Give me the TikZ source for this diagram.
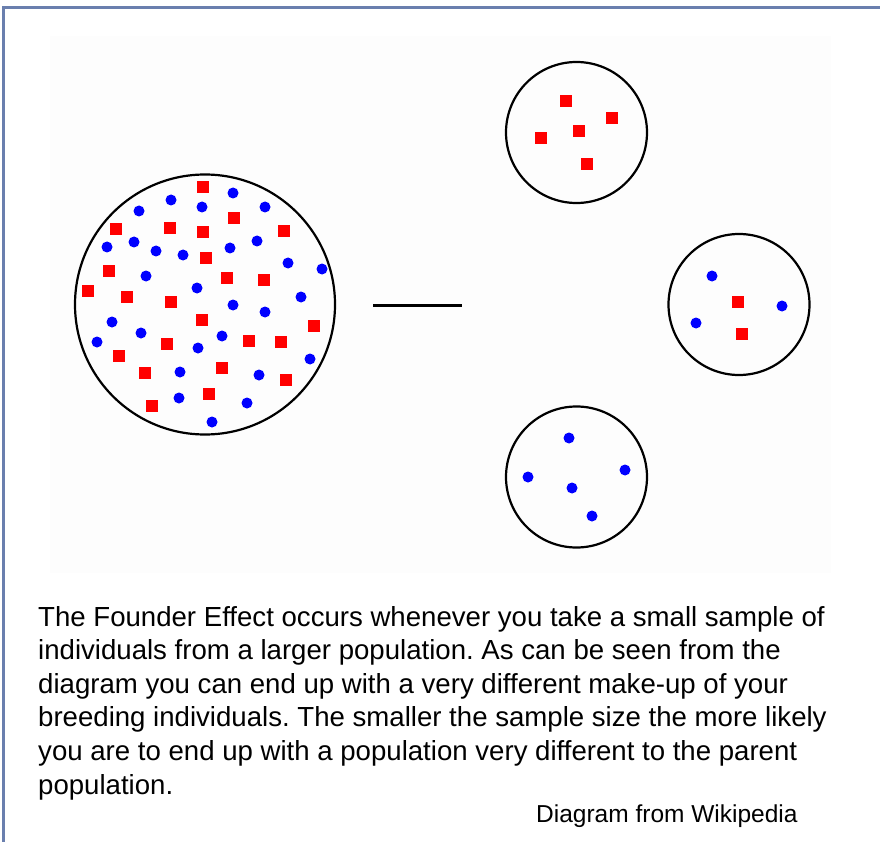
\documentclass[tikz,border=0pt]{standalone}
\usepackage{fontspec}
\setmainfont{Liberation Sans}
\usetikzlibrary{positioning}

\definecolor{framecol}{HTML}{6A7FAE}
\definecolor{dotred}{HTML}{FF0000}
\definecolor{dotblue}{HTML}{0000FF}
\frenchspacing

\begin{document}
\begin{tikzpicture}[x=1pt, y=-1pt,
    pop/.style={circle, draw=black, line width=2.2pt, inner sep=0pt},
    redsq/.style={rectangle, fill=dotred, minimum size=11.5pt, inner sep=0pt},
    bluedot/.style={circle, fill=dotblue, minimum size=11pt, inner sep=0pt},
    capline/.style={anchor=base west, inner sep=0pt, font=\fontsize{27.6}{33.6}\selectfont},
]
\useasboundingbox (0,0) rectangle (880,842);

% === Frame and picture background ===
\draw[framecol, line width=3pt] (3.5,842) -- (3.5,8) -- (880,8);
\fill[black!0.8] (50,36) rectangle (831,573);

% === Parent population ===
\node[pop, minimum size=260pt] (parent) at (205,304.5) {};
\foreach \px/\py [count=\i] in {203/187, 234/218, 116/229, 170/228, 203/232, 284/231,
    206/258, 109/271, 227/278, 264/280, 88/291, 127/297, 171/302, 202/320, 314/326,
    167/344, 249/341, 281/342, 119/356, 145/373, 222/368, 286/380, 209/394, 152/406}
  \node[redsq] (pr\i) at (\px,\py) {};
\foreach \px/\py [count=\i] in {233/193, 171/200, 202/207, 265/207, 139/211, 134/242,
    107/247, 156/251, 183/255, 230/248, 257/241, 288/263, 322/269, 146/276, 197/288,
    301/297, 233/305, 265/312, 112/322, 141/333, 97/342, 222/336, 198/348, 310/359,
    180/372, 259/375, 179/398, 247/403, 212/422}
  \node[bluedot] (pb\i) at (\px,\py) {};

% === Sampling bar ===
\coordinate (barL) at (373,305);
\coordinate (barR) at (462,305);
\draw[line width=3pt] (barL) -- (barR);

% === Sample 1: red only ===
\node[pop, minimum size=141pt] (sampA) at (576.5,132.5) {};
\foreach \px/\py [count=\i] in {566/101, 612/118, 579/131, 541/138, 587/164}
  \node[redsq] (ar\i) at (\px,\py) {};

% === Sample 2: mixed ===
\node[pop, minimum size=141pt] (sampB) at (739,304.5) {};
\foreach \px/\py [count=\i] in {712/276, 782/306, 696/323}
  \node[bluedot] (bb\i) at (\px,\py) {};
\foreach \px/\py [count=\i] in {738/302, 742/334}
  \node[redsq] (br\i) at (\px,\py) {};

% === Sample 3: blue only ===
\node[pop, minimum size=141pt] (sampC) at (576.5,477) {};
\foreach \px/\py [count=\i] in {569/438, 528/477, 625/470, 572/488, 592/516}
  \node[bluedot] (cb\i) at (\px,\py) {};

% === Caption ===
\foreach \ln [count=\i] in {{The Founder Effect occurs whenever you take a small sample of},
    {individuals from a larger population. As can be seen from the},
    {diagram you can end up with a very different make-up of your},
    {breeding individuals. The smaller the sample size the more likely},
    {you are to end up with a population very different to the parent},
    {population.}}
  \node[capline] (cap\i) at (38,{626+33.6*(\i-1)}) {\ln};
\node[anchor=base west, inner sep=0pt, font=\fontsize{24.5}{28}\selectfont] (credit) at (536,822) {Diagram from Wikipedia};

\end{tikzpicture}
\end{document}
